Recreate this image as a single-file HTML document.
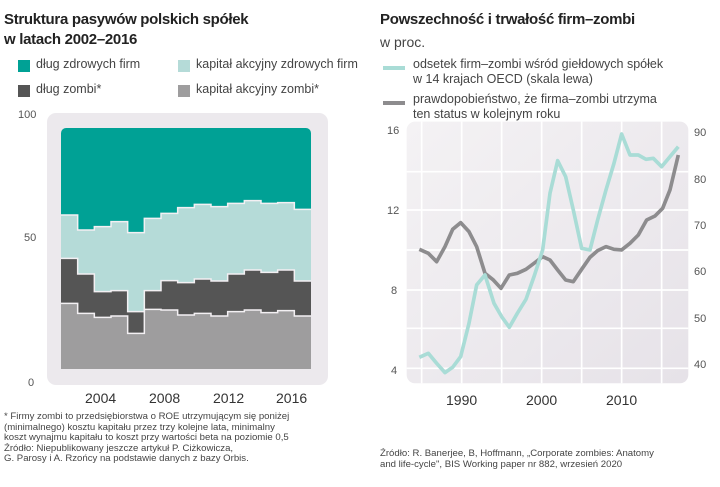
<!DOCTYPE html><html><head><meta charset="utf-8"><style>
body{margin:0;width:720px;height:487px;background:#fff;font-family:"Liberation Sans",sans-serif;position:relative;overflow:hidden;color:#333}
.a{position:absolute;white-space:nowrap}
.t{font-weight:bold;font-size:15px;color:#222;letter-spacing:-0.3px}
.lg{font-size:12.5px;color:#444}
.sq{position:absolute;width:12px;height:12px}
.tk{font-size:11px;color:#555}
.fn{font-size:9.6px;color:#444;line-height:10.6px}
</style></head><body>
<div class="a t" style="left:4px;top:11px">Struktura pasywów polskich spółek</div>
<div class="a t" style="left:4px;top:31px">w latach 2002–2016</div>
<div class="sq" style="left:18px;top:60px;background:#00a195"></div><div class="a lg" style="left:36px;top:57px">dług zdrowych firm</div>
<div class="sq" style="left:178px;top:60px;background:#b5dbd8"></div><div class="a lg" style="left:196px;top:57px">kapitał akcyjny zdrowych firm</div>
<div class="sq" style="left:18px;top:85px;background:#555"></div><div class="a lg" style="left:36px;top:82px">dług zombi*</div>
<div class="sq" style="left:178px;top:85px;background:#9e9d9e"></div><div class="a lg" style="left:196px;top:82px">kapitał akcyjny zombi*</div>
<div class="a tk" style="left:18px;top:109px">100</div>
<div class="a tk" style="left:24px;top:232px">50</div>
<div class="a tk" style="left:28px;top:377px">0</div>
<svg class="a" style="left:0;top:0" width="340" height="400">
<rect x="47" y="113" width="281" height="272" rx="9" fill="#ece9ed"/>
<g id="L"></g>
</svg>
<div class="a" style="left:85px;top:390px;font-size:14px;color:#333">2004</div>
<div class="a" style="left:149px;top:390px;font-size:14px;color:#333">2008</div>
<div class="a" style="left:213px;top:390px;font-size:14px;color:#333">2012</div>
<div class="a" style="left:276px;top:390px;font-size:14px;color:#333">2016</div>
<div class="a fn" style="left:4px;top:412px">* Firmy zombi to przedsiębiorstwa o ROE utrzymującym się poniżej<br>(minimalnego) kosztu kapitału przez trzy kolejne lata, minimalny<br>koszt wynajmu kapitału to koszt przy wartości beta na poziomie 0,5<br>Źródło: Niepublikowany jeszcze artykuł P. Ciżkowicza,<br>G. Parosy i A. Rzońcy na podstawie danych z bazy Orbis.</div>

<div class="a t" style="left:380px;top:11px">Powszechność i trwałość firm–zombi</div>
<div class="a" style="left:380px;top:34px;font-size:14px;color:#444">w proc.</div>
<div class="a" style="left:383px;top:66px;width:22px;height:4px;background:#a9dcd6"></div>
<div class="a lg" style="left:413px;top:57px;line-height:15px">odsetek firm–zombi wśród giełdowych spółek<br>w 14 krajach OECD (skala lewa)</div>
<div class="a" style="left:383px;top:101px;width:22px;height:4px;background:#8d8c8e"></div>
<div class="a lg" style="left:413px;top:92px;line-height:15px">prawdopobieństwo, że firma–zombi utrzyma<br>ten status w kolejnym roku</div>
<svg class="a" style="left:0;top:0" width="720" height="487">
<defs><linearGradient id="g" x1="0" y1="0" x2="1" y2="1"><stop offset="0" stop-color="#f4f2f4"/><stop offset="1" stop-color="#e6e2e8"/></linearGradient></defs>
<g transform="translate(370,110) scale(0.3333)">
<rect x="110" y="35" width="845" height="785" rx="25" fill="url(#g)"/>
<g stroke="#fff" stroke-width="5">
<line x1="155" y1="35" x2="155" y2="820"/><line x1="275" y1="35" x2="275" y2="820"/><line x1="395" y1="35" x2="395" y2="820"/><line x1="515" y1="35" x2="515" y2="820"/><line x1="635" y1="35" x2="635" y2="820"/><line x1="755" y1="35" x2="755" y2="820"/><line x1="875" y1="35" x2="875" y2="820"/>
<line x1="110" y1="185" x2="955" y2="185"/><line x1="110" y1="300" x2="955" y2="300"/><line x1="110" y1="420" x2="955" y2="420"/><line x1="110" y1="540" x2="955" y2="540"/><line x1="110" y1="655" x2="955" y2="655"/><line x1="110" y1="775" x2="955" y2="775"/>
</g>
<polyline fill="none" stroke="#8d8c8e" stroke-width="11" stroke-linejoin="round" points="148,418 175,430 200,455 225,410 248,358 272,338 297,365 320,410 345,490 370,510 393,535 418,495 442,490 468,478 492,460 518,440 540,450 563,480 587,510 610,515 635,478 660,442 683,422 708,410 732,418 755,420 780,400 805,375 830,330 855,318 878,295 900,240 925,135"/>
<polyline fill="none" stroke="#a9dcd6" stroke-width="11" stroke-linejoin="round" points="148,742 175,730 200,760 225,788 248,772 272,740 297,640 320,525 345,495 372,580 395,620 418,652 442,610 468,568 492,500 518,420 540,250 563,152 587,200 610,300 635,415 660,420 683,330 708,240 732,160 755,72 780,135 805,135 828,148 850,145 875,170 900,140 925,110"/>
</g></svg>
<div class="a tk" style="left:387px;top:125px">16</div>
<div class="a tk" style="left:387px;top:205px">12</div>
<div class="a tk" style="left:391px;top:285px">8</div>
<div class="a tk" style="left:391px;top:365px">4</div>
<div class="a tk" style="left:694px;top:127px">90</div>
<div class="a tk" style="left:694px;top:174px">80</div>
<div class="a tk" style="left:694px;top:220px">70</div>
<div class="a tk" style="left:694px;top:266px">60</div>
<div class="a tk" style="left:694px;top:313px">50</div>
<div class="a tk" style="left:694px;top:359px">40</div>
<div class="a" style="left:446px;top:392px;font-size:14px;color:#333">1990</div>
<div class="a" style="left:526px;top:392px;font-size:14px;color:#333">2000</div>
<div class="a" style="left:606px;top:392px;font-size:14px;color:#333">2010</div>
<div class="a fn" style="left:380px;top:449px">Źródło: R. Banerjee, B, Hoffmann, „Corporate zombies: Anatomy<br>and life-cycle", BIS Working paper nr 882, wrzesień 2020</div>
<script>
var t=[345,390,380,365,398,355,340,323,313,320,310,302,310,308,328],
m=[475,522,575,572,635,572,542,548,537,543,522,510,517,510,543],
b=[610,640,652,648,700,628,630,645,640,648,635,630,638,632,648];
function Y(z){return 100+z/3}
var x0=61,w=250/15,top=128,bot=369,s='';
function area(a,bb,c){var p='';for(var i=0;i<15;i++){p+=(x0+i*w)+','+Y(a[i])+' '+(x0+(i+1)*w)+','+Y(a[i])+' ';}
if(bb){for(var i=14;i>=0;i--){p+=(x0+(i+1)*w)+','+Y(bb[i])+' '+(x0+i*w)+','+Y(bb[i])+' ';}}
else p+=(x0+250)+','+bot+' '+x0+','+bot;
return '<polygon points="'+p+'" fill="'+c+'"/>';}
s+='<rect x="61" y="128" width="250" height="241" rx="5" fill="#00a195"/>';
s+=area(t,m,'#b5dbd8');s+=area(m,b,'#555');s+=area(b,null,'#9e9d9e');
function ln(a){var p='';for(var i=0;i<15;i++){p+=(x0+i*w)+','+Y(a[i])+' '+(x0+(i+1)*w)+','+Y(a[i])+' ';}return '<polyline points="'+p+'" fill="none" stroke="#f3f0f3" stroke-width="1.5"/>';}
s+=ln(t)+ln(m)+ln(b);
document.getElementById('L').innerHTML=s;
</script>
</body></html>
